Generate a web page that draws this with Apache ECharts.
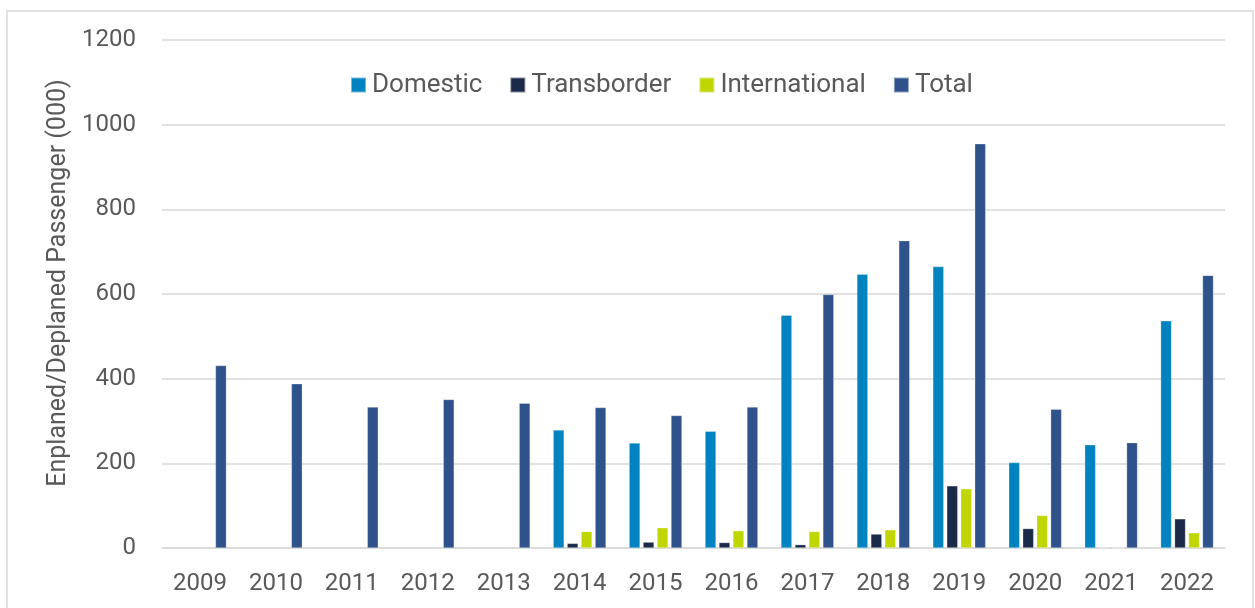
<!DOCTYPE html>
<html lang="en">
<head>
  <meta charset="UTF-8">
  <title>Enplaned/Deplaned Passengers</title>
  <style>
    html, body { margin: 0; padding: 0; background: #fff; }
    #main { width: 1255px; height: 608px; }
  </style>
</head>
<body>
  <div id="main"></div>
  <script src="https://cdn.jsdelivr.net/npm/echarts@6/dist/echarts.min.js"></script>
  <script>
    var years = ['2009', '2010', '2011', '2012', '2013', '2014', '2015', '2016', '2017', '2018', '2019', '2020', '2021', '2022'];
    // passengers, thousands
    var domestic      = [null, null, null, null, null, 279, 248, 276, 550, 647, 665, 202, 244, 537];
    var transborder   = [null, null, null, null, null, 11, 14, 13, 8, 33, 147, 46, 1, 69];
    var international = [null, null, null, null, null, 39, 48, 41, 39, 43, 140, 77, 0.5, 36];
    var total         = [431, 388, 333, 351, 342, 332, 313, 333, 599, 726, 955, 328, 249, 644];

    var chart = echarts.init(document.getElementById('main'));
    var textColor = '#595959';
    var font = 'Roboto, "DejaVu Sans", sans-serif';

    function bar(name, data, color) {
      return {
        name: name,
        type: 'bar',
        data: data,
        barWidth: 11,
        barGap: '27%',
        itemStyle: {
          color: color,
          borderColor: 'rgba(255,255,255,0.45)',
          borderWidth: 0.6
        }
      };
    }

    var option = {
      animation: false,
      backgroundColor: '#fff',
      textStyle: { fontFamily: font },
      graphic: [{
        type: 'rect',
        shape: { x: 7, y: 11, width: 1246, height: 620 },
        style: { fill: 'none', stroke: '#d9d9d9', lineWidth: 1.5 },
        silent: true
      }],
      legend: {
        left: 345,
        top: 67,
        itemWidth: 15,
        itemHeight: 15,
        itemGap: 27,
        icon: 'rect',
        textStyle: { color: textColor, fontSize: 26, fontFamily: font, padding: [0, 0, 0, 1] },
        data: ['Domestic', 'Transborder', 'International', 'Total']
      },
      grid: { left: 162, right: 30, top: 40, bottom: 60 },
      xAxis: {
        type: 'category',
        data: years,
        axisLine: { lineStyle: { color: '#d9d9d9', width: 1.5 } },
        axisTick: { show: false },
        axisLabel: { color: textColor, fontSize: 24, margin: 24, fontFamily: font }
      },
      yAxis: {
        type: 'value',
        min: 0,
        max: 1200,
        interval: 200,
        name: 'Enplaned/Deplaned Passenger (000)',
        nameLocation: 'middle',
        nameGap: 90,
        nameRotate: 90,
        nameTextStyle: { color: textColor, fontSize: 25, fontFamily: font, padding: [0, 0, 0, 22] },
        axisLine: { show: false },
        axisTick: { show: false },
        axisLabel: {
          color: textColor,
          fontSize: 24,
          margin: 26,
          fontFamily: font,
          formatter: function (v) { return String(v); }
        },
        splitLine: { lineStyle: { color: '#d9d9d9', width: 1.5 } }
      },
      series: [
        bar('Domestic', domestic, '#0083BE'),
        bar('Transborder', transborder, '#1B2A49'),
        bar('International', international, '#BFD600'),
        bar('Total', total, '#2E5289')
      ]
    };

    chart.setOption(option);
  </script>
</body>
</html>
